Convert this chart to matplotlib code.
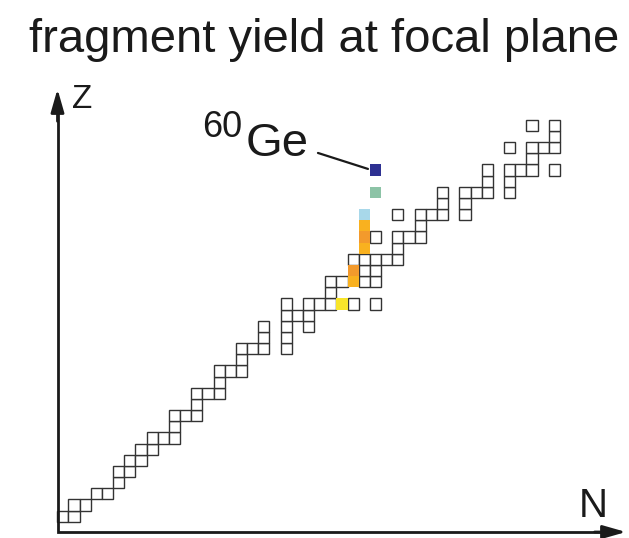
import numpy as np
import matplotlib
matplotlib.use("Agg")
import matplotlib.pyplot as plt
from matplotlib.patches import Rectangle

plt.rcParams['font.family'] = ['Liberation Sans', 'DejaVu Sans']

# nuclides seen at the focal plane: one entry per Z row, list of N values
row_z = list(range(0, 36))
row_n = [
    [0, 1], [1, 2], [3, 4], [5], [5, 6], [6, 7], [7, 8], [8, 9, 10], [10],
    [10, 11, 12], [12], [12, 13, 14], [14], [14, 15, 16], [16],
    [16, 17, 18, 20], [18, 20], [18, 20, 22], [20, 21, 22],
    [20, 22, 23, 24, 25, 26, 28], [24], [24, 25, 26, 27, 28], [26, 27, 28],
    [26, 27, 28, 29, 30], [27, 30], [27, 28, 30, 31, 32], [27, 32],
    [27, 30, 32, 33, 34, 36], [34, 36], [28, 34, 36, 37, 38, 40], [38, 40],
    [28, 38, 40, 41, 42, 44], [42], [40, 42, 43, 44], [44], [42, 44],
]

# highlighted (coloured) nuclides
hl_n = [28, 28, 27, 27, 27, 27, 26, 26, 25]
hl_z = [31, 29, 27, 26, 25, 24, 22, 21, 19]
hl_color = ['#2e3192', '#8cc3a6', '#a8d8ea', '#f9b11f', '#f39a2c',
            '#f9b11f', '#f39a2c', '#f9b11f', '#f8e52a']

ge_n, ge_z = 28, 31

W, H = 629, 538
fig = plt.figure(figsize=(W/100, H/100), dpi=100)
ax = fig.add_axes([0, 0, 1, 1])
cell = 11.17; x0, y0 = 62.8, 516.2
ax.set_xlim(-x0/cell, (W-x0)/cell)
ax.set_ylim((y0-H)/cell, y0/cell)
ax.axis('off')

hl = set(zip(hl_n, hl_z))
for z, ns in zip(row_z, row_n):
    for n in ns:
        if (n, z) in hl:
            continue
        ax.add_patch(Rectangle((n-0.5, z-0.5), 1, 1, fc='white', ec='#333333', lw=1.0))
for n, z, c in zip(hl_n, hl_z, hl_color):
    ax.add_patch(Rectangle((n-0.5, z-0.5), 1, 1, fc=c, ec='none', lw=0))

# axes arrows (L-shaped frame with arrow heads)
ink = '#1a1a1a'
cx, cy = 57.5/W, 1-532/H
ytip, xtip = 1-89/H, 626/W
ax.plot([cx, cx, xtip-0.02], [ytip-0.03, cy, cy], transform=ax.transAxes,
        color=ink, lw=2.0, solid_joinstyle='miter', solid_capstyle='butt')
arw = dict(arrowstyle='-|>,head_length=0.7,head_width=0.2', lw=2.0, color=ink,
           mutation_scale=20, shrinkA=0, shrinkB=0)
ax.annotate('', xy=(cx, ytip), xytext=(cx, ytip-0.06), xycoords='axes fraction', arrowprops=arw)
ax.annotate('', xy=(xtip, cy), xytext=(xtip-0.05, cy), xycoords='axes fraction', arrowprops=arw)
ax.text(72/W, 1-108/H, 'Z', transform=ax.transAxes, fontsize=24, ha='left', va='baseline', color=ink)
ax.text(579/W, 1-517/H, 'N', transform=ax.transAxes, fontsize=29, ha='left', va='baseline', color=ink)

# 60Ge label
ax.annotate('', xy=(ge_n-0.68, ge_z+0.09), xytext=(-36, 11.5), textcoords='offset points',
            arrowprops=dict(arrowstyle='-', lw=1.6, color=ink, shrinkA=0, shrinkB=0))
ax.annotate('Ge', xy=(ge_n, ge_z), xytext=(-93.6, 10), textcoords='offset points',
            fontsize=34, ha='left', va='baseline', color=ink)
ax.annotate('60', xy=(ge_n, ge_z), xytext=(-125, 23.8), textcoords='offset points',
            fontsize=26, ha='left', va='baseline', color=ink)

fig.text(324.5/W, 1-51.7/H, 'fragment yield at focal plane', fontsize=34,
         ha='center', va='baseline', color=ink)

fig.savefig('out.png', dpi=100)
